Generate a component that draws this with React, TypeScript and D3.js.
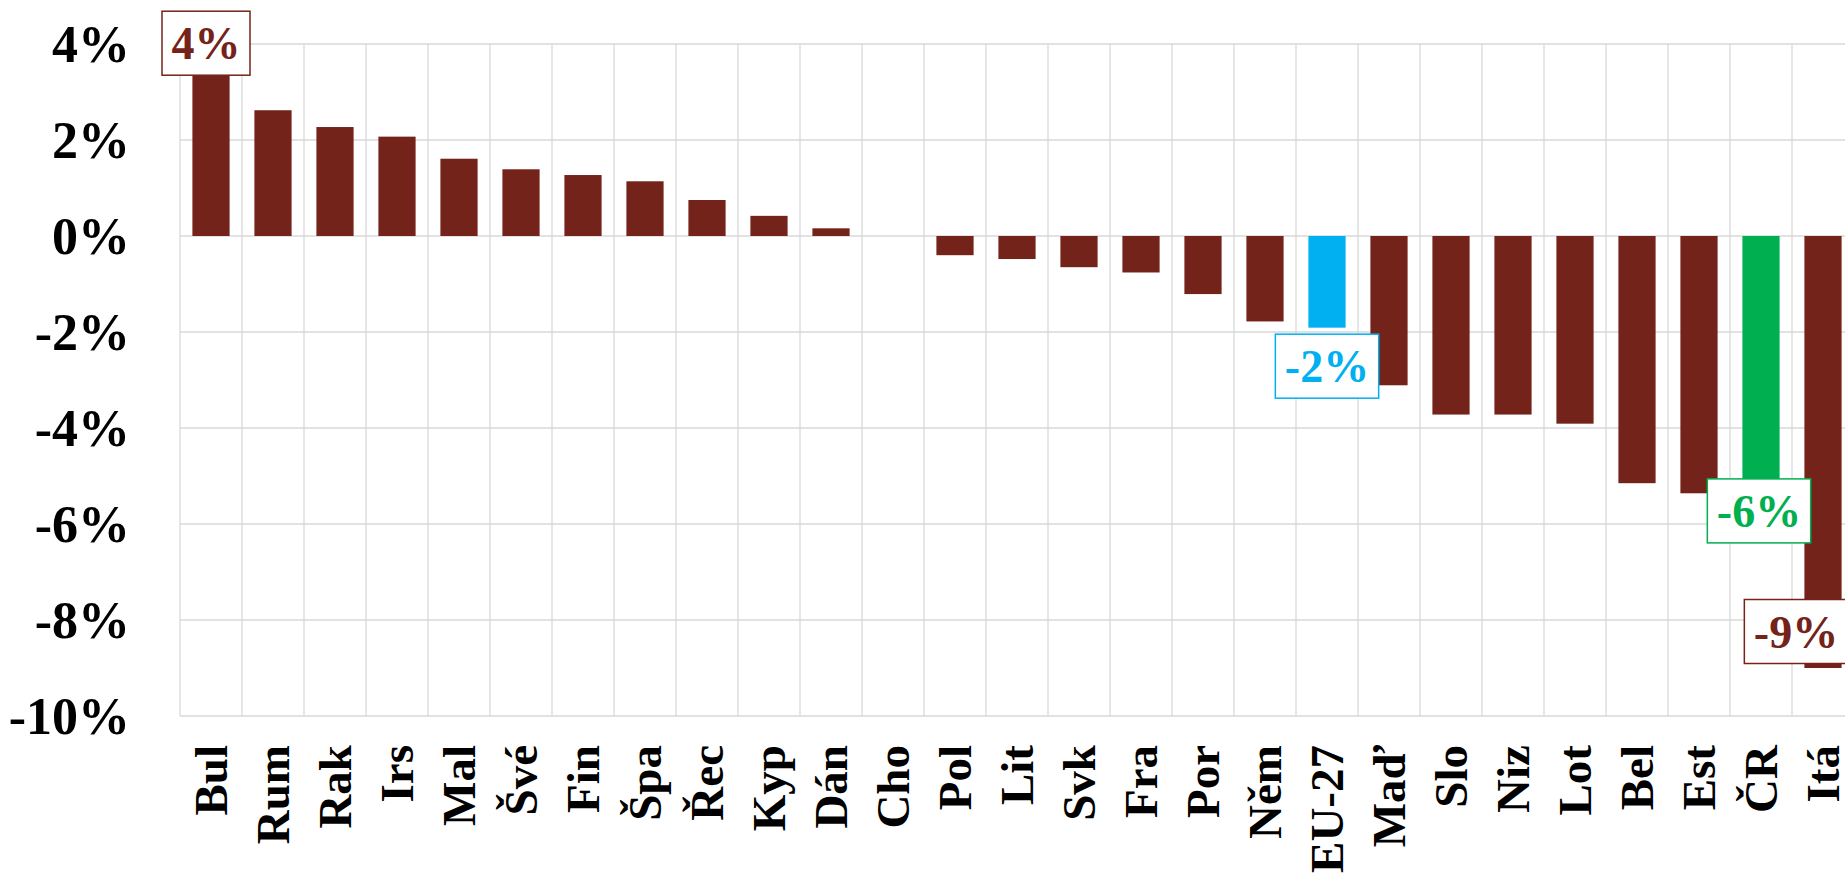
import React, { useEffect, useRef } from 'react';
import * as d3 from 'd3';

const countries = ['Bul', 'Rum', 'Rak', 'Irs', 'Mal', 'Švé', 'Fin', 'Špa', 'Řec', 'Kyp', 'Dán', 'Cho', 'Pol', 'Lit', 'Svk', 'Fra', 'Por', 'Něm', 'EU-27', 'Maď', 'Slo', 'Niz', 'Lot', 'Bel', 'Est', 'ČR', 'Itá'];
const changes = [3.6, 2.62, 2.27, 2.07, 1.61, 1.39, 1.27, 1.14, 0.75, 0.42, 0.16, 0, -0.4, -0.48, -0.65, -0.76, -1.21, -1.78, -1.91, -3.11, -3.72, -3.72, -3.91, -5.15, -5.36, -5.8, -9.0];
const yTicks = [4, 2, 0, -2, -4, -6, -8, -10];
// labelled bars: category, label text
const labelled = ['Bul', 'EU-27', 'ČR', 'Itá'];
const labelTexts = ['4%', '-2%', '-6%', '-9%'];

const colors = {
    bar: '#74231a',
    eu: '#00b0f0',
    cz: '#00b050',
    grid: '#d9d9d9',
};
const font = '"Liberation Serif", "Times New Roman", serif';

function barColor(c: string) {
    if (c === 'EU-27') return colors.eu;
    if (c === 'ČR') return colors.cz;
    return colors.bar;
}

export default function App() {
    const svgRef = useRef<SVGSVGElement | null>(null);
    const W = 1845, H = 875;

    useEffect(() => {
        document.body.style.margin = '0';
        const margin = { left: 180, top: 44 };
        const band = 62;
        const xScale = d3.scaleBand<string>()
            .domain(countries)
            .range([margin.left, margin.left + band * countries.length])
            .paddingInner(0.4)
            .paddingOuter(0.2);
        const yScale = d3.scaleLinear().domain([-10, 4]).range([716, margin.top]);
        const step = xScale.step();
        const x0 = margin.left, x1 = margin.left + step * countries.length;

        const svg = d3.select(svgRef.current);
        svg.selectAll('*').remove();
        const grid = svg.append('g').attr('class', 'grid');

        // horizontal grid
        grid.selectAll('.hgrid').data(yTicks).enter().append('line')
            .attr('x1', x0).attr('x2', x1)
            .attr('y1', d => yScale(d)).attr('y2', d => yScale(d))
            .attr('stroke', colors.grid).attr('stroke-width', 1.3);
        // vertical grid at category boundaries
        const bounds = d3.range(countries.length + 1).map(i => x0 + i * step);
        grid.selectAll('.vgrid').data(bounds).enter().append('line')
            .attr('x1', d => d).attr('x2', d => d)
            .attr('y1', yScale(4)).attr('y2', yScale(-10))
            .attr('stroke', colors.grid).attr('stroke-width', 1.3);

        // y tick labels
        svg.append('g').selectAll('text').data(yTicks).enter().append('text')
            .attr('x', 130)
            .attr('y', d => yScale(d) + 17.5)
            .attr('text-anchor', 'end')
            .attr('font-family', font).attr('font-weight', 'bold').attr('font-size', 52)
            .text(d => `${d}%`);

        // bars
        const data = countries.map((c, i) => ({ c, v: changes[i] }));
        svg.append('g').selectAll('rect').data(data).enter().append('rect')
            .attr('x', d => xScale(d.c)!)
            .attr('width', xScale.bandwidth())
            .attr('y', d => yScale(Math.max(0, d.v)))
            .attr('height', d => Math.abs(yScale(d.v) - yScale(0)))
            .attr('fill', d => barColor(d.c));

        // category labels
        svg.append('g').selectAll('text').data(countries).enter().append('text')
            .attr('transform', d => `translate(${xScale(d)! + xScale.bandwidth() / 2 + 16}, 745) rotate(-90)`)
            .attr('text-anchor', 'end')
            .attr('font-family', font).attr('font-weight', 'bold').attr('font-size', 47)
            .text(d => d);

        // data labels with boxes
        const offsets: Record<string, [number, number]> = {
            'Bul': [-5, -20],
            'EU-27': [0, 38.5],
            'ČR': [-2, -3.5],
            'Itá': [-27, -36.5],
        };
        const lg = svg.append('g');
        labelled.forEach((c, i) => {
            const v = changes[countries.indexOf(c)];
            const col = barColor(c);
            const [dx, dy] = offsets[c];
            const cx = xScale(c)! + xScale.bandwidth() / 2 + dx;
            const cy = yScale(v) + dy;
            const g = lg.append('g');
            const rect = g.append('rect')
                .attr('fill', 'white').attr('stroke', col).attr('stroke-width', 1.5);
            const t = g.append('text')
                .attr('x', cx).attr('y', cy + 16)
                .attr('text-anchor', 'middle')
                .attr('font-family', font).attr('font-weight', 'bold').attr('font-size', 46)
                .attr('fill', col)
                .text(labelTexts[i]);
            const tw = (t.node() as SVGTextElement).getComputedTextLength();
            const bw = tw + 19;
            rect.attr('x', cx - bw / 2).attr('y', cy - 32).attr('width', bw).attr('height', 64);
        });
    }, []);

    return (
        <svg ref={svgRef} width={W} height={H} style={{ display: 'block', overflow: 'hidden' }} />
    );
}
